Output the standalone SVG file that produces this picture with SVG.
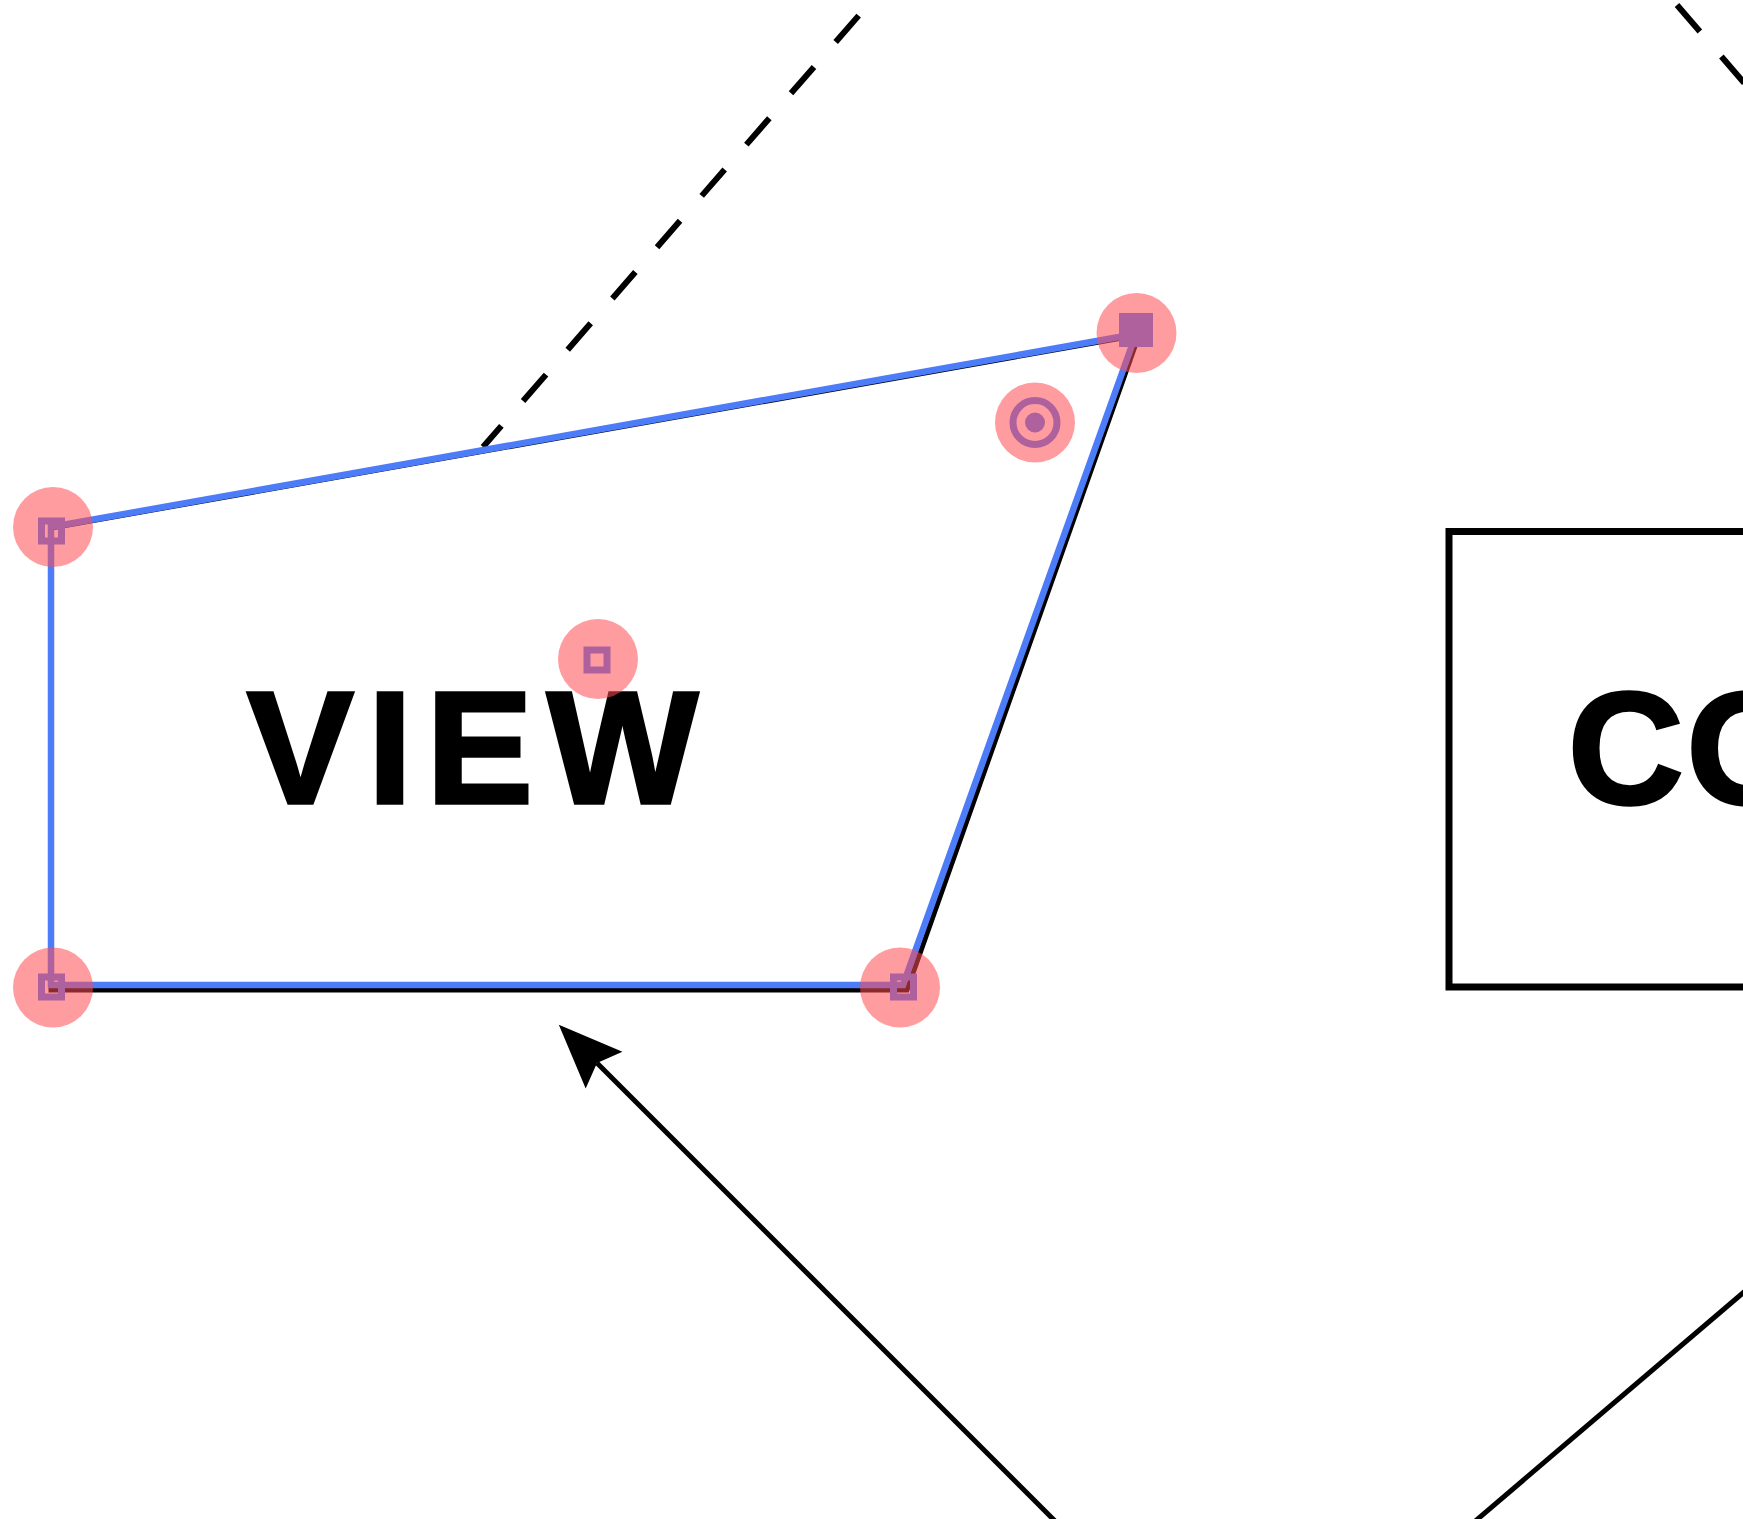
<svg xmlns="http://www.w3.org/2000/svg" width="1743" height="1519" viewBox="0 0 1743 1519">
<style>
  .edge { fill: none; stroke: #000; stroke-width: 5; stroke-linejoin: miter; }
  .sel { fill: none; stroke: #4d7cf8; stroke-width: 6.5; stroke-linejoin: miter; }
  .dash { fill: none; stroke: #000; stroke-width: 6; stroke-dasharray: 35 33; }
  .solid { fill: none; stroke: #000; stroke-width: 5; }
  .box { fill: none; stroke: #000; stroke-width: 7; }
  .label { font-family: "Liberation Sans", Arial, sans-serif; font-weight: bold; font-size: 160px; fill: #000; stroke: #000; stroke-width: 3.5; stroke-linejoin: miter; }
  .hsq { fill: none; stroke: #4d7cf8; stroke-width: 7; }
  .hfill { fill: #4d7cf8; }
  .halo { fill: rgb(255,75,80); fill-opacity: 0.55; }
</style>
<defs>
  <marker id="arrow" markerUnits="userSpaceOnUse" orient="auto" refX="0" refY="0" markerWidth="80" markerHeight="60" overflow="visible">
    <path d="M 54 0 L -10 -26 L 0 0 L -10 26 Z" fill="#000"/>
  </marker>
</defs>
<rect x="0" y="0" width="1743" height="1519" fill="#fff"/>

<g id="connectors">
  <path class="dash" d="M 483 447 L 881 -10" stroke-dashoffset="7"/>
  <path class="dash" d="M 1677 5 L 1808 157"/>
  <path class="solid" d="M 1075 1541 L 597 1063" marker-end="url(#arrow)"/>
  <path class="solid" d="M 1466 1529 L 1798 1246"/>
</g>

<g id="view">
  <path class="edge" d="M 51 528 L 1139 335 L 907 990 L 51 990 Z"/>
  <text class="label" x="247" y="803" letter-spacing="14">VIEW</text>
</g>

<g id="controller">
  <rect class="box" x="1449" y="531.5" width="400" height="455.5"/>
  <text class="label" x="1568" y="803" letter-spacing="3">CO</text>
</g>

<g id="selection">
  <path class="sel" d="M 51 527 L 1136 334 L 903 985 L 51 985 Z"/>
  <rect class="hsq" x="41.5" y="521" width="20" height="20"/>
  <rect class="hsq" x="41.5" y="977" width="20" height="20"/>
  <rect class="hsq" x="893.5" y="977" width="20" height="20"/>
  <rect class="hsq" x="587" y="650" width="20" height="20"/>
  <rect class="hfill" x="1119" y="313" width="34" height="34"/>
  <circle cx="1035" cy="422.5" r="22" fill="none" stroke="#4d7cf8" stroke-width="7"/>
  <circle class="hfill" cx="1035" cy="422.5" r="10"/>
</g>

<g id="halos">
  <circle class="halo" cx="53" cy="527" r="40"/>
  <circle class="halo" cx="1136.5" cy="333" r="40"/>
  <circle class="halo" cx="900" cy="987.5" r="40"/>
  <circle class="halo" cx="53" cy="987.5" r="40"/>
  <circle class="halo" cx="598" cy="659" r="40"/>
  <circle class="halo" cx="1035" cy="422.5" r="40"/>
</g>
</svg>
